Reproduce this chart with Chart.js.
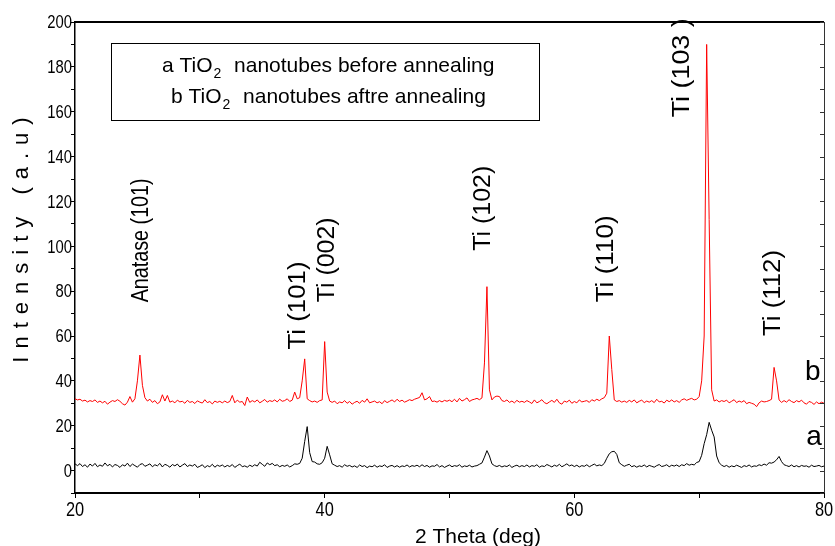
<!DOCTYPE html>
<html>
<head>
<meta charset="utf-8">
<script src="https://cdn.jsdelivr.net/npm/chart.js@4/dist/chart.umd.min.js"></script>
<style>
  html, body { margin: 0; padding: 0; background: #fff; }
</style>
</head>
<body>
<canvas id="graph" width="835" height="546"></canvas>
<script>
// 2 theta scan (deg)
const twoTheta = [
  20, 20.2, 20.4, 20.6, 20.8, 21, 21.2, 21.4, 21.6, 21.8,
  22, 22.2, 22.4, 22.6, 22.8, 23, 23.2, 23.4, 23.6, 23.8,
  24, 24.2, 24.4, 24.6, 24.8, 25, 25.2, 25.4, 25.6, 25.8,
  26, 26.2, 26.4, 26.6, 26.8, 27, 27.2, 27.4, 27.6, 27.8,
  28, 28.2, 28.4, 28.6, 28.8, 29, 29.2, 29.4, 29.6, 29.8,
  30, 30.2, 30.4, 30.6, 30.8, 31, 31.2, 31.4, 31.6, 31.8,
  32, 32.2, 32.4, 32.6, 32.8, 33, 33.2, 33.4, 33.6, 33.8,
  34, 34.2, 34.4, 34.6, 34.8, 35, 35.2, 35.4, 35.6, 35.8,
  36, 36.2, 36.4, 36.6, 36.8, 37, 37.2, 37.4, 37.6, 37.8,
  38, 38.2, 38.4, 38.6, 38.8, 39, 39.2, 39.4, 39.6, 39.8,
  40, 40.2, 40.4, 40.6, 40.8, 41, 41.2, 41.4, 41.6, 41.8,
  42, 42.2, 42.4, 42.6, 42.8, 43, 43.2, 43.4, 43.6, 43.8,
  44, 44.2, 44.4, 44.6, 44.8, 45, 45.2, 45.4, 45.6, 45.8,
  46, 46.2, 46.4, 46.6, 46.8, 47, 47.2, 47.4, 47.6, 47.8,
  48, 48.2, 48.4, 48.6, 48.8, 49, 49.2, 49.4, 49.6, 49.8,
  50, 50.2, 50.4, 50.6, 50.8, 51, 51.2, 51.4, 51.6, 51.8,
  52, 52.2, 52.4, 52.6, 52.8, 53, 53.2, 53.4, 53.6, 53.8,
  54, 54.2, 54.4, 54.6, 54.8, 55, 55.2, 55.4, 55.6, 55.8,
  56, 56.2, 56.4, 56.6, 56.8, 57, 57.2, 57.4, 57.6, 57.8,
  58, 58.2, 58.4, 58.6, 58.8, 59, 59.2, 59.4, 59.6, 59.8,
  60, 60.2, 60.4, 60.6, 60.8, 61, 61.2, 61.4, 61.6, 61.8,
  62, 62.2, 62.4, 62.6, 62.8, 63, 63.2, 63.4, 63.6, 63.8,
  64, 64.2, 64.4, 64.6, 64.8, 65, 65.2, 65.4, 65.6, 65.8,
  66, 66.2, 66.4, 66.6, 66.8, 67, 67.2, 67.4, 67.6, 67.8,
  68, 68.2, 68.4, 68.6, 68.8, 69, 69.2, 69.4, 69.6, 69.8,
  70, 70.2, 70.4, 70.6, 70.8, 71, 71.2, 71.4, 71.6, 71.8,
  72, 72.2, 72.4, 72.6, 72.8, 73, 73.2, 73.4, 73.6, 73.8,
  74, 74.2, 74.4, 74.6, 74.8, 75, 75.2, 75.4, 75.6, 75.8,
  76, 76.2, 76.4, 76.6, 76.8, 77, 77.2, 77.4, 77.6, 77.8,
  78, 78.2, 78.4, 78.6, 78.8, 79, 79.2, 79.4, 79.6, 79.8,
  80
];

// a : TiO2 nanotubes before annealing
const sampleA = [
  3, 2.2, 3.1, 1.8, 2.6, 1.5, 2.9, 2, 3.2, 1.7,
  2.5, 1.9, 3.4, 2.1, 2.8, 1.6, 2.7, 2.3, 1.4, 2.6,
  2, 3.3, 1.8, 2.9, 2.2, 1.5, 2.7, 3.1, 1.9, 2.4,
  3, 1.7, 2.6, 2.1, 3.2, 1.6, 2.8, 2.3, 1.5, 2.7,
  2.1, 2.9, 1.6, 2.4, 3.1, 1.8, 2.5, 2, 2.8, 1.4,
  1.9, 2.6, 1.3, 2.2, 1.7, 2.8, 1.5, 2.4, 1.9, 2.5,
  1.6, 2.3, 1.8, 2.7, 1.4, 2.2, 2.9, 1.7, 2.1, 1.5,
  2.4, 1.8, 2.6, 2, 3.7, 2.8, 1.9, 3.4, 2.6, 3.2,
  2.2, 2.6, 1.7, 2.3, 1.9, 2.5, 1.6, 2.2, 3, 2.8,
  3.2, 5.5, 13, 19.6, 8, 4, 3.8, 3, 2.8, 3.5,
  5.5, 10.8, 7, 3, 2.4, 1.8, 2.2, 1.5, 2.6, 1.9,
  2.3, 1.6, 2.1, 1.4, 2.5, 1.8, 2.2, 1.3, 2, 1.7,
  2.4, 1.5, 2.1, 1.8, 2.6, 1.4, 2, 2.3, 1.6, 2.2,
  1.5, 2.1, 1.8, 2.5, 1.6, 2.2, 1.9, 2.4, 1.7, 2.6,
  1.8, 2.3, 1.5, 2.1, 1.9, 2.7, 1.6, 2.2, 1.4, 2,
  2.5, 1.7, 2.2, 1.9, 2.6, 1.5, 2.1, 1.8, 2.4, 1.6,
  2, 2.2, 2.8, 3.4, 6, 8.9, 6.5, 3, 2.2, 1.8,
  2.3, 1.6, 2.1, 1.8, 2.5, 1.4, 2, 2.4, 1.7, 2.2,
  1.8, 2.5, 1.6, 2.2, 1.9, 2.6, 1.5, 2.1, 1.8, 2.7,
  2.2, 1.6, 2.4, 1.9, 2.8, 1.7, 2.3, 3, 2.1, 2.5,
  1.8, 2.4, 1.6, 2.2, 1.9, 2.6, 1.7, 2.3, 2.9, 2.1,
  2.5, 2.2, 3.2, 5.5, 7.5, 8.4, 8.6, 7.2, 3.5, 2.6,
  1.9, 2.4, 2.8, 1.7, 2.2, 1.5, 2.1, 1.8, 2.5, 1.6,
  2.3, 1.9, 1.5, 2.2, 2.7, 1.8, 2.1, 2.6, 1.7, 2.4,
  2, 2.5, 1.8, 2.6, 2.2, 3.1, 2.4, 2.8, 2.5, 3.6,
  4, 6.8, 12, 16, 21.5, 18, 15, 6.5, 3.5, 2.4,
  1.8, 2.3, 1.5, 2.1, 1.7, 2.4, 1.9, 1.4, 2.2, 1.8,
  2.5, 1.6, 2.1, 1.9, 2.6, 2.2, 2.9, 2.4, 3.5, 3.3,
  3.8, 4.8, 6.3, 4, 2.6, 2.2, 1.8, 2.5, 1.7, 2.2,
  1.6, 2.3, 1.9, 2.1, 1.5, 2.4, 1.8, 2, 2.3, 1.7,
  2
];

// b : TiO2 nanotubes after annealing
const sampleB = [
  32, 31.5, 31.8, 31, 31.4, 30.6, 31.2, 30.8, 31.5, 30.4,
  31, 30.2, 30.9, 29.6, 30.5, 31.2, 30.8, 31.6, 30.9, 29.8,
  29.2, 30.5, 33, 30.5, 32, 40, 51.5, 38, 32.5, 31,
  31.8, 30.4, 31.2, 29.8, 30.6, 33.8, 31, 33.5, 30.5, 31,
  30.2, 31.4, 30.6, 30.9, 30, 31.3, 30.4, 30.8, 29.9, 31.1,
  30.5, 30.1, 31.6, 30.3, 30.8, 29.7, 31, 30.4, 30.9, 30.2,
  31, 30.3, 30.8, 33.5, 30.2, 31.4, 30.5, 30.8, 29, 32.8,
  30.4, 31.2, 30.6, 31.5, 30.2, 30.9, 31.7, 30.5, 31.2, 30.8,
  31.5, 30.6, 31.8, 30.9, 31.2, 32, 30.8, 31.4, 35, 32,
  32.5, 40, 49.8, 32, 31.2, 30.6, 31, 30.4, 31.2, 31.5,
  57.5, 35, 31, 30.4, 31, 29.8, 30.6, 30.2, 31.2, 30,
  30.8, 29.6, 30.4, 30.9, 30, 31.3, 30.5, 32, 30.2, 30.6,
  31, 30.2, 30.7, 29.8, 31.2, 30.3, 30.9, 31.5, 30.6, 31.8,
  30.8, 31.4, 30.5, 31, 31.6, 31.2, 31.8, 32.2, 32.6, 34.7,
  31.5, 32, 33, 30.8, 31, 30.5, 31.2, 30.6, 31.3, 30.9,
  31.4, 30.7, 31.8, 30.6, 32.2, 31, 31.6, 32.4, 30.8, 31.5,
  31.8, 32.2, 31.6, 32.4, 48, 82, 36, 31.5, 32.8, 33.2,
  33, 31.2, 30.8, 31.5, 30.4, 31, 30.2, 31.3, 30.5, 30.9,
  30.4, 31.2, 30.6, 29.9, 31.5, 30.2, 30.8, 31.6, 30.3, 29.8,
  30.6, 31.3, 30.4, 31.8, 30.2, 29.6, 31, 30.5, 31.4, 30,
  30.8, 30.2, 31.5, 30.6, 30.9, 31.2, 30.4, 31.6, 31, 31.8,
  31.2, 32, 32.5, 34.5, 60, 45, 31.5, 30.8, 31.2, 30.5,
  31, 30.4, 31.3, 30.6, 31.5, 30.2, 30.9, 31.4, 30.3, 31,
  30.5, 31.2, 30.3, 31.8, 30.6, 30.9, 30.1, 31.4, 30.7, 31.5,
  30.6, 31.2, 30.4, 31.5, 32, 31.3, 31.8, 32.2, 31.5, 31.8,
  33, 40, 60, 190, 112, 36, 31, 31.5, 30.6, 31.2,
  30.8, 31.4, 30.2, 30.9, 31.6, 30.3, 31, 30.5, 31.2, 29.8,
  30.4, 30, 29.6, 28.5, 30.2, 31, 30.6, 30.8, 31.2, 31.8,
  46, 40, 31.5, 30.4, 31.2, 30.5, 31.6, 30.8, 30.3, 31.2,
  30.6, 31.4, 30.2, 29.6, 30.8, 30.4, 29.5, 30.6, 29.8, 30.5,
  30
];

const xTickLabels = [20, 40, 60, 80];
const yTickLabels = [0, 20, 40, 60, 80, 100, 120, 140, 160, 180, 200];
const peakNames = ["Anatase (101)", "Ti (101)", "Ti (002)", "Ti (102)", "Ti (110)", "Ti (103 )", "Ti (112)"];
const seriesNames = ["a", "b"];
const legendText = [" nanotubes before annealing", " nanotubes aftre annealing"];

// where the peak names sit (2theta, intensity at the foot of the text) and how long they run (px)
const peakLabelPos = [[25.3, 75], [37.95, 54], [40.2, 75], [52.75, 98], [62.6, 75], [68.65, 157.5], [75.95, 60]];
const peakLabelLen = [124, 88, 85, 85, 87, 99, 86];
const seriesLabelPos = [[79.2, 15], [79.1, 44]];

const graph = document.getElementById("graph");
ctx = graph.getContext('2d');

const FONT = "'Liberation Sans', Arial, sans-serif";

function toPoints(ys) {
    return twoTheta.map((t, i) => ({ x: t, y: ys[i] }));
}

function formulaLine(c, x, y, name, rest) {
    c.font = "21px " + FONT;
    c.fillText(name + " TiO", x, y);
    x += c.measureText(name + " TiO").width;
    c.font = "14px " + FONT;
    c.fillText("2", x + 1, y + 8);
    x += c.measureText("2").width + 2;
    c.font = "21px " + FONT;
    c.fillText(" " + rest, x, y);
}

// squeezed digits like the original plot
function narrowText(c, txt, x, y, align) {
    c.save();
    c.translate(x, y);
    c.scale(0.78, 1);
    c.textAlign = align;
    c.fillText(txt, 0, 0);
    c.restore();
}

const decor = {
    id: "decor",
    afterDraw(chart) {
        const c = chart.ctx;
        const a = chart.chartArea;
        const xs = chart.scales.x, ys = chart.scales.y;
        c.save();
        c.strokeStyle = "#000";
        c.fillStyle = "#000";

        // top + right frame, right ticks point inward
        c.lineWidth = 2;
        c.beginPath();
        c.moveTo(a.left, a.top);
        c.lineTo(a.right, a.top);
        c.stroke();
        c.lineWidth = 1;
        c.strokeStyle = "#333";
        c.beginPath();
        c.moveTo(a.right + 0.5, a.top);
        c.lineTo(a.right + 0.5, a.bottom);
        ys.ticks.forEach(t => {
            const py = Math.round(ys.getPixelForValue(t.value)) + 0.5;
            c.moveTo(a.right, py);
            c.lineTo(a.right - 4, py);
        });
        c.stroke();

        // tick labels
        c.font = "19px " + FONT;
        c.textBaseline = "middle";
        yTickLabels.forEach(v => narrowText(c, String(v), a.left - 3, ys.getPixelForValue(v) + 1, "right"));
        c.font = "21px " + FONT;
        c.textBaseline = "top";
        xTickLabels.forEach(v => narrowText(c, String(v), xs.getPixelForValue(v), a.bottom + 7, "center"));

        // legend box
        c.strokeStyle = "#000";
        c.lineWidth = 1;
        c.strokeRect(111.5, 43.5, 428, 77);
        c.textBaseline = "middle";
        c.textAlign = "left";
        formulaLine(c, 162, 66, seriesNames[0], legendText[0]);
        formulaLine(c, 171, 97, seriesNames[1], legendText[1]);

        // peak names, rotated
        c.font = "23px " + FONT;
        peakNames.forEach((name, i) => {
            const px = xs.getPixelForValue(peakLabelPos[i][0]);
            const py = ys.getPixelForValue(peakLabelPos[i][1]);
            const k = peakLabelLen[i] / c.measureText(name).width;
            c.save();
            c.translate(px, py);
            c.rotate(-Math.PI / 2);
            c.scale(k, 1);
            c.fillText(name, 0, 0);
            c.restore();
        });

        // a / b next to the curves
        c.font = "28px " + FONT;
        c.textAlign = "center";
        seriesNames.forEach((s, i) => {
            c.fillText(s, xs.getPixelForValue(seriesLabelPos[i][0]), ys.getPixelForValue(seriesLabelPos[i][1]));
        });

        // axis titles
        c.font = "21px " + FONT;
        c.textBaseline = "top";
        c.fillText("2 Theta (deg)", 478, 527);

        c.save();
        c.translate(22, 240);
        c.rotate(-Math.PI / 2);
        c.font = "22px " + FONT;
        c.letterSpacing = "8px";
        c.textBaseline = "middle";
        c.fillText("Intensity (a.u)", 4, 0);
        c.restore();

        c.restore();
    }
};

let myChart = new Chart(ctx, {
    type: "line",
    data: {
        datasets: [
            {
                label: seriesNames[0],
                data: toPoints(sampleA),
                borderColor: "#000000",
                borderWidth: 1,
                pointRadius: 0,
                tension: 0
            },
            {
                label: seriesNames[1],
                data: toPoints(sampleB),
                borderColor: "#ff0000",
                borderWidth: 1,
                pointRadius: 0,
                tension: 0
            }
        ]
    },
    options: {
        responsive: false,
        animation: false,
        devicePixelRatio: 1,
        layout: { padding: { top: 22, right: 11, left: 0, bottom: 0 } },
        plugins: {
            legend: { display: false },
            tooltip: { enabled: false }
        },
        scales: {
            x: {
                type: "linear",
                min: 20,
                max: 80,
                afterFit: s => { s.height = 53; },
                border: { color: "#000", width: 2 },
                grid: { drawOnChartArea: false, tickLength: 5, tickColor: "#000", tickWidth: 1 },
                ticks: { stepSize: 10, autoSkip: false, display: false }
            },
            y: {
                min: -10,
                max: 200,
                afterFit: s => { s.width = 75; },
                border: { color: "#000", width: 1.5 },
                grid: { drawOnChartArea: false, tickLength: 4, tickColor: "#000", tickWidth: 1 },
                ticks: { stepSize: 10, autoSkip: false, display: false }
            }
        }
    },
    plugins: [decor]
});
</script>
</body>
</html>
